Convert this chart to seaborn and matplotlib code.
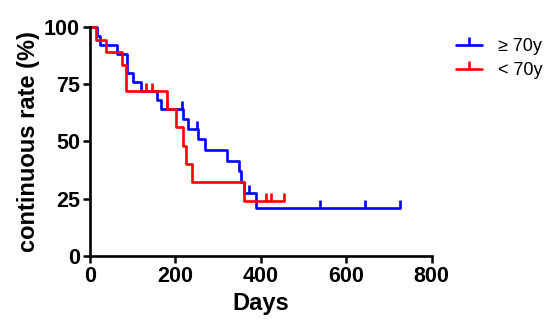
import matplotlib
matplotlib.use("Agg")
import matplotlib.pyplot as plt
from matplotlib.lines import Line2D
import seaborn as sns
import pandas as pd

# step curves (days, % still continuing)
old_days = [0, 18, 24, 64, 87, 102, 120, 157, 168, 218, 230, 253, 270, 322, 350, 355, 360, 389, 725]
old_rate = [100, 96, 92, 88, 80, 76, 72, 68, 64, 59.7, 55.5, 50.9, 46.2, 41.6, 37.0, 32.4, 27.7, 20.8, 20.8]
old_cens = [216, 251, 373, 538, 645, 725]

young_days = [0, 15, 38, 76, 84, 181, 201, 218, 225, 240, 361, 455]
young_rate = [100, 94.4, 88.9, 83.3, 72.2, 64.2, 56.2, 48.2, 40.1, 32.1, 24.1, 24.1]
young_cens = [131, 145, 181, 413, 424, 455]

groups = ["\u2265 70y", "< 70y"]
colors = ["#0000FF", "#FF0000"]

sns.set_style("ticks")
plt.rcParams["font.family"] = ["Liberation Sans", "DejaVu Sans"]
plt.rcParams["text.color"] = "black"
plt.rcParams["axes.labelcolor"] = "black"
plt.rcParams["xtick.color"] = "black"
plt.rcParams["ytick.color"] = "black"

fig = plt.figure(figsize=(5.5, 3.36), dpi=100)
ax = fig.add_axes([0.163, 0.238, 0.622, 0.682])

curves = [(old_days, old_rate, old_cens), (young_days, young_rate, young_cens)]
for (days, rate, cens), name, col in zip(curves, groups, colors):
    df = pd.DataFrame({"Days": days, "rate": rate})
    sns.lineplot(data=df, x="Days", y="rate", drawstyle="steps-post", estimator=None,
                 sort=False, color=col, linewidth=1.9, ax=ax, clip_on=False)
    # censor marks sit on the curve value at that time
    cy = []
    for c in cens:
        v = rate[0]
        for d, r in zip(days, rate):
            if d <= c:
                v = r
        cy.append(v)
    ax.plot(cens, cy, linestyle="none", marker=2, markersize=6, markeredgewidth=1.9,
            color=col, clip_on=False)

ax.set_xlim(0, 800)
ax.set_ylim(0, 100)
ax.set_xticks([0, 200, 400, 600, 800])
ax.set_yticks([0, 25, 50, 75, 100])
sns.despine(ax=ax)
for s in ["left", "bottom"]:
    ax.spines[s].set_linewidth(1.9)
    ax.spines[s].set_color("black")
ax.tick_params(axis="both", length=5, width=1.8, colors="black", labelsize=15.5, pad=2)
for lab in ax.get_xticklabels() + ax.get_yticklabels():
    lab.set_fontweight("bold")

ax.set_xlabel("Days", fontsize=17, fontweight="bold", labelpad=4, color="black")
ax.set_ylabel("continuous rate (%)", fontsize=17, fontweight="bold", labelpad=3, color="black")

handles = [Line2D([0], [0], color=c, linewidth=1.9, marker=2, markersize=6,
                  markeredgewidth=1.9) for c in colors]
fig.legend(handles, groups, loc="upper left", bbox_to_anchor=(0.80, 0.935), frameon=False,
           fontsize=13, handlelength=1.4, handletextpad=0.9, labelspacing=0.4, numpoints=1)

fig.savefig("out.png", dpi=100)
